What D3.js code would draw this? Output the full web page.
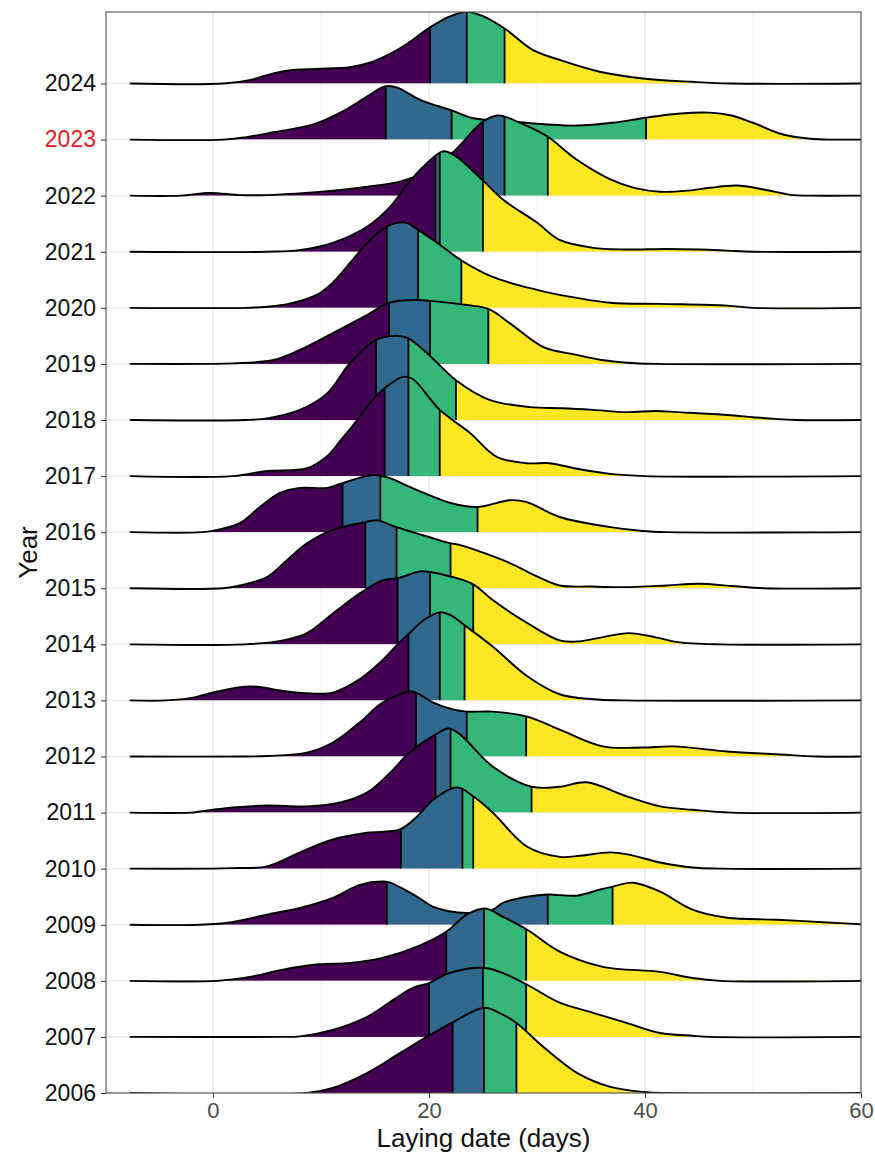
<!DOCTYPE html>
<html>
<head>
<meta charset="utf-8">
<script src="https://cdn.jsdelivr.net/npm/d3@7"></script>
<style>
  body { margin: 0; background: #fff; }
  text { font-family: "Liberation Sans", Arial, sans-serif; }
</style>
</head>
<body>
<svg id="chart" width="875" height="1157"></svg>
<script>
// years, bottom to top
const years = [2006, 2007, 2008, 2009, 2010, 2011, 2012, 2013, 2014, 2015,
               2016, 2017, 2018, 2019, 2020, 2021, 2022, 2023, 2024];
const highlightYear = 2023;

// quartiles of laying date (days)
const q1s     = [22.2, 20.0, 21.6, 16.1, 17.4, 20.6, 18.8, 18.1, 17.1, 14.1,
                 12.0, 15.9, 15.1, 16.3, 16.1, 20.6, 25.0, 16.0, 20.1];
const medians = [25.1, 25.0, 25.1, 31.0, 23.1, 22.0, 23.5, 21.0, 20.1, 17.0,
                 15.5, 18.1, 18.1, 20.1, 19.0, 21.0, 27.0, 22.1, 23.5];
const q3s     = [28.1, 29.0, 29.0, 37.0, 24.1, 29.5, 29.0, 23.3, 24.1, 22.0,
                 24.5, 21.0, 22.5, 25.5, 23.0, 25.0, 31.0, 40.1, 27.0];

// density curves [day, density (% per day)]
const dens2006 = [[8.7,0],[11.1,0.9],[14.3,3.6],[17.3,7.1],[19.8,10.0],[22.1,12.5],[25.1,15.2],[26.5,14.3],[28.1,12.5],[30.6,8.2],[33.7,3.6],[36.8,1.1],[39.8,0.2],[42,0]];
const dens2007 = [[6,0],[8.05,0.1],[11.1,1.25],[14.3,3.6],[16.7,6.6],[18.5,8.75],[20,9.6],[21.9,11.4],[25.2,12.3],[27,11.25],[29.1,9.3],[32.1,6.1],[35.2,4.3],[38.3,2.5],[41.4,0.7],[44.4,0.2],[46,0]];
const dens2008 = [[0.4,0],[3.4,0.7],[6.5,2.0],[9.6,2.9],[12.7,3.2],[15.7,4.1],[18.9,6.1],[21.6,8.75],[23.5,11.8],[25.2,12.9],[26.85,11.4],[29.1,9.1],[32.1,5.2],[36.1,2.5],[41.4,1.6],[44.4,0.5],[47,0]];
const dens2009 = [[-1.2,0],[1.85,0.5],[5,1.8],[8.05,3.0],[11.1,4.8],[13.6,7.1],[15.7,7.7],[16.4,7.5],[18.9,5.0],[20.4,3.2],[23.5,2.1],[25.9,2.7],[26.85,3.9],[29.1,5.0],[31,5.4],[33.7,5.2],[35.8,6.25],[37,6.8],[38.9,7.5],[41.4,5.9],[44.4,2.7],[47.6,1.25],[52.2,0.9],[56.9,0.4],[60,0.1]];
const dens2010 = [[0,0],[1.85,0.1],[5,0.4],[8.05,2.9],[11.1,5.2],[14.3,6.4],[17.3,7.0],[18.9,9.3],[20.4,12.3],[22.6,14.5],[24.1,12.9],[25.9,10.0],[29.1,3.9],[32.1,2.1],[34,2.3],[36.8,2.9],[38.5,2.5],[41.4,1.1],[44.4,0.2],[47,0]];
const dens2011 = [[-2,0],[-1.2,0.2],[1.85,0.9],[5,1.25],[8.7,1.1],[11.8,1.8],[14.3,3.6],[16.4,7.1],[18.2,10.7],[20.6,13.9],[21.8,15.0],[22.9,13.9],[25.9,8.2],[29.5,4.6],[32.1,4.6],[34.6,5.4],[38.3,2.9],[41.4,1.1],[44.4,0.5],[48,0]];
const dens2012 = [[3,0],[5,0.1],[8.7,0.7],[11.1,2.5],[13.6,6.1],[15.7,9.6],[18.2,11.6],[18.8,11.4],[20.4,9.6],[22.2,8.4],[23.5,8.0],[25.9,8.0],[29.1,7.1],[32.1,4.8],[36.1,1.8],[39.8,1.6],[42.6,1.8],[47.6,0.9],[52.2,0.4],[56,0]];
const dens2013 = [[-4.3,0],[-1.85,0.5],[0.4,1.6],[3.4,2.5],[6.85,1.6],[9,1.25],[11.1,1.4],[13.6,3.8],[15.5,6.8],[17.3,10.4],[18.1,11.8],[19.5,14.3],[21,15.7],[22,15.2],[23.3,13.4],[25.9,9.6],[29.1,4.3],[32.1,1.1],[35.2,0.2],[38,0]];
const dens2014 = [[3,0],[6.5,0.7],[8.7,2.0],[11.1,5.5],[13.6,9.1],[15.7,11.4],[17.1,11.8],[19.2,13.0],[20.1,12.9],[22,12.1],[24.1,10.7],[25.9,7.9],[29.1,3.8],[32.1,0.7],[33.7,0.5],[36,1.25],[38.5,2.0],[41,1.25],[43,0.4],[47,0]];
const dens2015 = [[1,0],[2.5,0.5],[5,2.0],[6.85,5.0],[8.7,8.0],[11.1,10.4],[14.1,11.8],[15.2,12.1],[17,10.9],[20.4,8.9],[22,8.0],[22.9,7.7],[27.5,4.5],[30,2.1],[32.1,0.5],[35,0.3],[38,0.2],[42,0.5],[45,0.8],[48,0.4],[51,0]];
const dens2016 = [[-1,0],[0.4,0.4],[2.5,1.6],[4.35,4.5],[6.2,7.0],[8.05,7.9],[10.6,7.9],[12,8.75],[14.8,10.2],[16.1,9.8],[18.9,7.5],[22,5.2],[24.5,4.5],[27.5,5.7],[29,5.4],[32.1,2.7],[36.8,0.9],[39.8,0.2],[42,0]];
const dens2017 = [[1.85,0],[5,0.9],[8.7,1.4],[10.6,3.6],[12,6.8],[12.7,8.4],[14.8,13.6],[15.9,15.7],[17.6,17.7],[18.5,17.3],[21,11.8],[23.8,7.7],[26.3,3.4],[29.1,2.3],[31.2,2.3],[33.7,1.3],[36.8,0.4],[40,0]];
const dens2018 = [[3,0],[5,0.3],[8.05,1.8],[10.6,4.8],[12.7,10.2],[15.1,14.3],[17,15.0],[18.05,14.6],[20,11.6],[22.5,7.1],[25.6,3.6],[29.35,2.3],[32.4,2.1],[35.2,1.8],[38.3,1.4],[41,1.6],[43,1.4],[47.6,0.9],[50,0.5],[52,0.2],[54,0]];
const dens2019 = [[0,0],[1.85,0.1],[5.6,0.7],[8.05,2.5],[11.1,5.5],[14.3,8.75],[16.3,10.9],[18.9,11.4],[20.1,11.25],[23.5,10.5],[25.5,9.8],[27.6,7.1],[30.6,3.0],[33.7,1.6],[36,0.7],[38.3,0.2],[41,0]];
const dens2020 = [[3,0],[5,0.2],[7,0.7],[9.6,2.3],[11.1,4.5],[12.7,8.0],[14.3,11.6],[16.1,14.5],[17.8,15.2],[19,13.9],[21,11.25],[23.05,8.4],[25.9,5.5],[30,3.2],[32.1,2.3],[36.8,0.9],[41.4,0.7],[47.6,0.4],[50,0]];
const dens2021 = [[5,0],[8,0.3],[11.1,1.6],[14.3,4.5],[16.4,8.0],[18,12.0],[19.5,15.2],[21.3,17.9],[22.5,17.0],[25,12.7],[26.85,9.3],[30,5.2],[32.1,2.1],[35.2,0.7],[38,0.4],[42,0.5],[45,0.4],[47.6,0.2],[50,0]];
const dens2022 = [[-3,0],[-0.3,0.5],[2.5,0.1],[5,0.1],[8,0.4],[11.1,0.9],[14.3,1.6],[17.3,2.5],[20,4.5],[22.2,7.7],[25,13.2],[26.3,14.3],[27,14.1],[29,12.5],[31,10.5],[33.7,6.4],[36.8,2.9],[39,1.4],[41.4,0.7],[44,0.9],[46,1.4],[48.5,1.8],[51,1.1],[53.7,0.1],[55,0]];
const dens2023 = [[1,0],[3,0.4],[5.6,1.3],[9.3,2.7],[11.8,4.8],[14.3,7.7],[15.9,9.5],[17,9.3],[19.2,7.1],[22.1,5.2],[24.1,3.8],[26.6,3.4],[29,3.0],[31,2.7],[33.7,2.5],[37,3.0],[40.1,3.9],[43,4.6],[46,4.8],[48,4.3],[50,3.0],[52.8,0.9],[55.6,0.1],[57,0]];
const dens2024 = [[1,0],[3.4,0.6],[5.6,1.8],[7.4,2.4],[9.6,2.6],[12.7,2.9],[14.5,3.7],[16.4,5.3],[18,7.1],[20.1,10.0],[22,12.0],[23.5,12.8],[25,12.0],[27,9.8],[29.6,6.0],[32.1,4.2],[35.8,2.1],[39.8,0.9],[44.4,0.3],[48,0]];
const curves = [dens2006, dens2007, dens2008, dens2009, dens2010, dens2011, dens2012,
                dens2013, dens2014, dens2015, dens2016, dens2017, dens2018, dens2019,
                dens2020, dens2021, dens2022, dens2023, dens2024];

const xTicks = [0, 20, 40, 60];
const xMinorTicks = [10, 30, 50];
const dateRange = [-7.7, 60];   // range the densities are evaluated over
const quartileColors = ['#440154', '#31688E', '#35B779', '#FDE725'];

// layout
const svg = d3.select('#chart');
const panel = { left: 106, right: 861, top: 12, bottom: 1093 };

const x = d3.scaleLinear().domain([-9.9, 60]).range([panel.left, panel.right]);
const y = d3.scalePoint().domain(years).range([panel.bottom, 83.5]);
const step = y.step();
const h = d3.scaleLinear().domain([0, 10]).range([0, step]); // 10 %/day = one row
const smooth = d3.curveCatmullRom.alpha(0.5);

svg.append('defs').append('clipPath').attr('id', 'panelClip')
  .append('rect')
  .attr('x', panel.left).attr('y', panel.top)
  .attr('width', panel.right - panel.left).attr('height', panel.bottom - panel.top);

// grid
const grid = svg.append('g');
grid.selectAll('.minor').data(xMinorTicks).enter().append('line')
  .attr('x1', d => x(d)).attr('x2', d => x(d))
  .attr('y1', panel.top).attr('y2', panel.bottom)
  .attr('stroke', '#ebebeb').attr('stroke-width', 0.8);
grid.selectAll('.major').data(xTicks).enter().append('line')
  .attr('x1', d => x(d)).attr('x2', d => x(d))
  .attr('y1', panel.top).attr('y2', panel.bottom)
  .attr('stroke', '#ebebeb').attr('stroke-width', 1.5);
grid.selectAll('.hmajor').data(years).enter().append('line')
  .attr('x1', panel.left).attr('x2', panel.right)
  .attr('y1', d => y(d)).attr('y2', d => y(d))
  .attr('stroke', '#ebebeb').attr('stroke-width', 1.5);

// ridges, top row first so lower rows sit in front
const ridges = svg.append('g').attr('clip-path', 'url(#panelClip)');

for (let i = years.length - 1; i >= 0; i--) {
  const year = years[i];
  const base = y(year);
  let pts = curves[i].slice();
  if (pts[0][0] > dateRange[0]) pts.unshift([dateRange[0], 0]);
  if (pts[pts.length - 1][0] < dateRange[1]) pts.push([dateRange[1], 0]);

  const area = d3.area()
    .x(d => x(d[0]))
    .y0(base)
    .y1(d => base - h(d[1]))
    .curve(smooth);
  const line = d3.line()
    .x(d => x(d[0]))
    .y(d => base - h(d[1]))
    .curve(smooth);

  const clipId = 'ridge-' + year;
  svg.select('defs').append('clipPath').attr('id', clipId)
    .append('path').attr('d', area(pts));

  const g = ridges.append('g');
  const bounds = [dateRange[0], q1s[i], medians[i], q3s[i], dateRange[1]];
  const fills = g.append('g').attr('clip-path', 'url(#' + clipId + ')');
  for (let k = 0; k < 4; k++) {
    fills.append('rect')
      .attr('x', x(bounds[k]))
      .attr('width', x(bounds[k + 1]) - x(bounds[k]))
      .attr('y', base - 3 * step)
      .attr('height', 3 * step)
      .attr('fill', quartileColors[k]);
  }
  fills.selectAll('.q').data([q1s[i], medians[i], q3s[i]]).enter().append('line')
    .attr('x1', d => x(d)).attr('x2', d => x(d))
    .attr('y1', base).attr('y2', base - 3 * step)
    .attr('stroke', '#000').attr('stroke-width', 1.8);

  g.append('path')
    .attr('d', line(pts))
    .attr('fill', 'none')
    .attr('stroke', '#000')
    .attr('stroke-width', 1.9);
}

// panel border
svg.append('rect')
  .attr('x', panel.left).attr('y', panel.top)
  .attr('width', panel.right - panel.left).attr('height', panel.bottom - panel.top)
  .attr('fill', 'none').attr('stroke', '#555').attr('stroke-width', 1.1);

// axes
const xAxis = svg.append('g')
  .attr('transform', 'translate(0,' + panel.bottom + ')')
  .call(d3.axisBottom(x).tickValues(xTicks).tickSize(5).tickPadding(4));
xAxis.select('.domain').remove();
xAxis.selectAll('line').attr('stroke', '#333');
xAxis.selectAll('text').attr('fill', '#4d4d4d').style('font-size', '22px')
  .style('font-family', '"Liberation Sans", Arial, sans-serif');

const yAxis = svg.append('g')
  .attr('transform', 'translate(' + panel.left + ',0)')
  .call(d3.axisLeft(y).tickSize(5).tickPadding(5));
yAxis.select('.domain').remove();
yAxis.selectAll('line').attr('stroke', '#333');
yAxis.selectAll('text')
  .attr('fill', d => d === highlightYear ? '#e3191c' : '#111')
  .style('font-size', '23px')
  .style('font-family', '"Liberation Sans", Arial, sans-serif');

// titles
svg.append('text')
  .attr('x', (panel.left + panel.right) / 2)
  .attr('y', 1147)
  .attr('text-anchor', 'middle')
  .attr('font-size', '26px')
  .attr('fill', '#111')
  .text('Laying date (days)');

svg.append('text')
  .attr('transform', 'translate(37,' + (panel.top + panel.bottom) / 2 + ') rotate(-90)')
  .attr('text-anchor', 'middle')
  .attr('font-size', '26px')
  .attr('fill', '#111')
  .text('Year');
</script>
</body>
</html>
